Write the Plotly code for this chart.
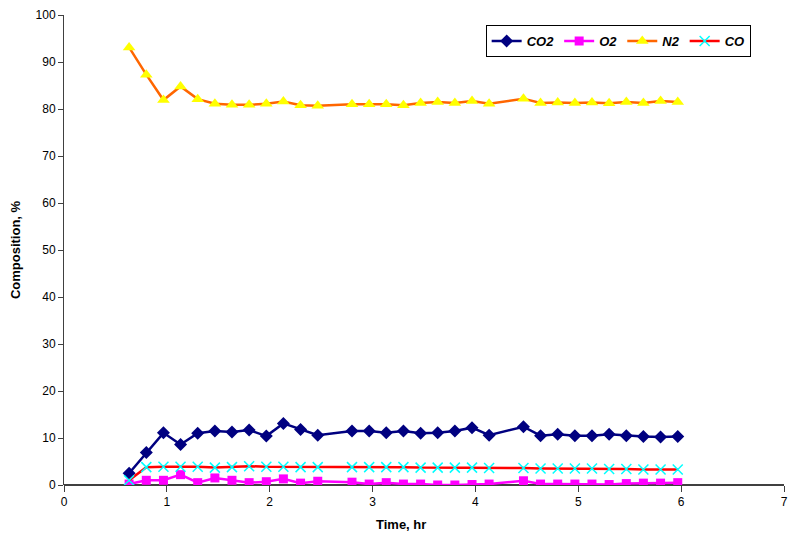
import plotly.graph_objects as go

# Sampling times (hr)
time_hr = [0.633, 0.8, 0.967, 1.133, 1.3, 1.467, 1.633, 1.8, 1.967, 2.133, 2.3, 2.467,
           2.8, 2.967, 3.133, 3.3, 3.467, 3.633, 3.8, 3.967, 4.133,
           4.467, 4.633, 4.8, 4.967, 5.133, 5.3, 5.467, 5.633, 5.8, 5.967]

# Gas composition, %
co2 = [2.5, 6.9, 11.1, 8.6, 11.0, 11.5, 11.3, 11.7, 10.4, 13.1, 11.8, 10.6,
       11.5, 11.5, 11.1, 11.5, 11.0, 11.1, 11.5, 12.2, 10.6,
       12.4, 10.5, 10.8, 10.5, 10.5, 10.8, 10.5, 10.3, 10.2, 10.3]
o2 = [0.2, 1.0, 1.0, 2.2, 0.5, 1.5, 1.0, 0.5, 0.7, 1.3, 0.4, 0.8,
      0.6, 0.2, 0.5, 0.2, 0.2, 0.0, 0.0, 0.1, 0.2,
      0.9, 0.2, 0.2, 0.2, 0.2, 0.1, 0.3, 0.4, 0.4, 0.5]
n2 = [93.1, 87.3, 81.9, 84.8, 82.1, 81.1, 80.9, 80.9, 81.1, 81.6, 80.8, 80.7,
      81.0, 81.0, 81.0, 80.8, 81.3, 81.5, 81.3, 81.7, 81.1,
      82.2, 81.3, 81.4, 81.3, 81.4, 81.2, 81.5, 81.3, 81.7, 81.5]
co = [1.0, 3.8, 3.9, 3.9, 3.9, 3.7, 3.8, 4.0, 3.9, 3.9, 3.8, 3.8,
      3.8, 3.8, 3.8, 3.8, 3.7, 3.7, 3.7, 3.7, 3.6,
      3.6, 3.5, 3.5, 3.5, 3.5, 3.4, 3.4, 3.3, 3.3, 3.3]

x_ticks = [0, 1, 2, 3, 4, 5, 6, 7]
y_ticks = [0, 10, 20, 30, 40, 50, 60, 70, 80, 90, 100]

FONT = "Liberation Sans, Arial, sans-serif"
W, H = 789, 542
M_L, M_R, M_T, M_B = 64, 1, 15, 57

fig = go.Figure()
fig.add_trace(go.Scatter(
    x=time_hr, y=co2, name="CO2", mode="lines+markers",
    line=dict(color="#000080", width=2.5),
    marker=dict(symbol="diamond", size=10, color="#000080")))
fig.add_trace(go.Scatter(
    x=time_hr, y=o2, name="O2", mode="lines+markers",
    line=dict(color="#FF00FF", width=2.5),
    marker=dict(symbol="square", size=9, color="#FF00FF")))
fig.add_trace(go.Scatter(
    x=time_hr, y=n2, name="N2", mode="lines+markers",
    line=dict(color="#FF6600", width=2.5),
    marker=dict(symbol="triangle-up", size=11, color="#FFFF00")))
fig.add_trace(go.Scatter(
    x=time_hr, y=co, name="CO", mode="lines+markers",
    line=dict(color="#FF0000", width=2.5),
    marker=dict(symbol="x-thin", size=10, color="#00FFFF",
                line=dict(color="#00FFFF", width=1.5))))

plot_w = W - M_L - M_R
plot_h = H - M_T - M_B
fig.update_layout(
    width=W, height=H,
    margin=dict(l=M_L, r=M_R, t=M_T, b=M_B),
    paper_bgcolor="white", plot_bgcolor="white",
    font=dict(family=FONT, size=12, color="black"),
    showlegend=True,
    legend=dict(
        orientation="h", x=(488 - M_L) / plot_w, y=1 - (25 - M_T) / plot_h,
        xanchor="left", yanchor="top",
        bordercolor="black", borderwidth=1, bgcolor="white",
        font=dict(family=FONT, size=13, color="black", weight="bold", style="italic"),
        itemwidth=30, tracegroupgap=0),
    annotations=[dict(
        text="<b>Time, hr</b>", xref="paper", yref="paper",
        x=(403 - M_L) / plot_w, y=-(524 - (H - M_B)) / plot_h,
        xanchor="center", yanchor="middle", showarrow=False,
        font=dict(family=FONT, size=13, color="black"))],
)
fig.update_xaxes(
    range=[0, 7], tickvals=x_ticks, ticktext=[str(v) for v in x_ticks],
    showgrid=False, zeroline=False, showline=False,
    ticks="outside", ticklen=6, tickcolor="#404040",
    ticklabeloverflow="allow")
fig.update_yaxes(
    range=[0, 100], tickvals=y_ticks, ticktext=[str(v) for v in y_ticks],
    showgrid=False, zeroline=True, zerolinecolor="#404040", zerolinewidth=1.5,
    showline=True, linecolor="#404040", linewidth=1,
    ticks="outside", ticklen=5, tickcolor="#404040",
    title=dict(text="<b>Composition, %</b>", font=dict(size=13), standoff=12))

fig.write_html("out.html")
